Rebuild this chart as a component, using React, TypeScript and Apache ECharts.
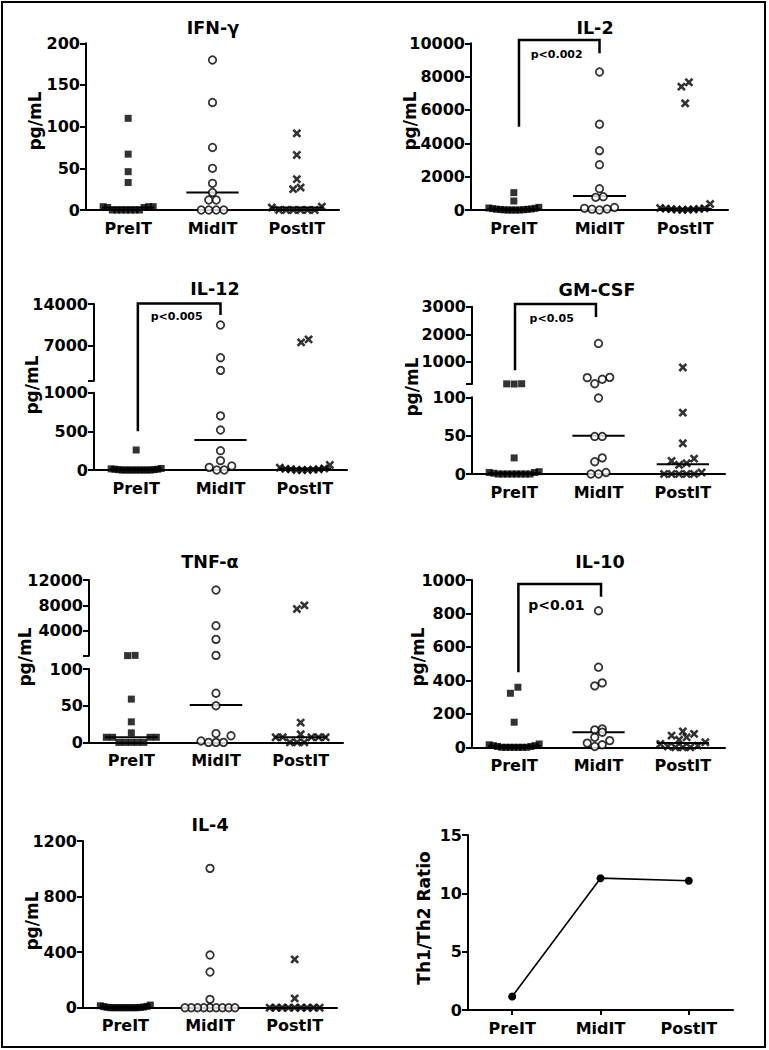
import React, { useEffect, useRef } from "react";
import * as echarts from "echarts";

const categories = ["PreIT", "MidIT", "PostIT"];

// IFN-γ (pg/mL)
const ifnPre = [110, 67, 46, 33, 4, 4, 3, 0, 0, 0, 0, 0, 0, 0, 3, 4];
const ifnMid = [180, 129, 75, 50, 32, 21, 12, 12, 0, 0, 0, 0];
const ifnPost = [92, 66, 37, 27, 25, 4, 0, 0, 0, 0, 0, 0, 3];
const ifnMedian = [3, 21, 3];

// IL-2
const il2Pre = [1040, 540, 160, 120, 100, 80, 60, 50, 40, 30, 20, 10, 0, 0, 0, 0];
const il2Mid = [8280, 5140, 3560, 2720, 1280, 800, 760, 150, 100, 60, 50, 0];
const il2Post = [7660, 7400, 6400, 360, 120, 100, 80, 60, 50, 40, 30, 20, 10];
const il2Median = [50, 840, 80];

// IL-12
const il12Pre = [259, 20, 15, 10, 10, 5, 5, 0, 0, 0, 0, 0, 0, 0, 0, 0];
const il12Mid = [10440, 4900, 2750, 700, 517, 250, 121, 52, 34, 0, 0];
const il12Post = [8000, 7500, 65, 30, 20, 15, 10, 10, 5, 0, 0, 0];
const il12Median = [10, 388, 20];

// GM-CSF
const gmPre = [210, 205, 200, 21, 3, 2, 0, 0, 0, 0, 0, 0, 0, 0, 1, 2];
const gmMid = [1670, 440, 430, 370, 210, 99, 49, 49, 21, 16, 2, 0, 0];
const gmPost = [800, 80, 40, 20, 17, 14, 12, 2, 0, 0, 0, 0, 0];
const gmMedian = [1, 50, 12.6];

// TNF-α
const tnfPre = [150, 110, 59, 28, 13, 7, 7, 7, 7, 0, 0, 0, 0, 0];
const tnfMid = [10420, 4820, 2670, 150, 67, 50, 12, 9, 2, 0, 0, 0];
const tnfPost = [8010, 7440, 27, 11, 7, 7, 7, 7, 7, 0, 0, 0];
const tnfMedian = [7, 51, 7];

// IL-10
const il10Pre = [359, 323, 150, 20, 15, 10, 10, 5, 5, 0, 0, 0, 0, 0, 0, 0];
const il10Mid = [816, 479, 385, 367, 110, 104, 90, 60, 40, 25, 15, 5];
const il10Post = [95, 80, 70, 60, 45, 30, 20, 10, 5, 0, 0, 0];
const il10Median = [10, 90, 25];

// IL-4
const il4Pre = [19, 14, 10, 8, 5, 3, 2, 0, 0, 0, 0, 0, 0, 0, 0, 0];
const il4Mid = [1003, 379, 257, 60, 0, 0, 0, 0, 0, 0, 0, 0, 0];
const il4Post = [348, 67, 0, 0, 0, 0, 0, 0, 0, 0, 0];
const il4Median = [0, 0, 0];

// Th1/Th2 ratio
const th1th2Ratio = [1.15, 11.3, 11.08];

// Axis segments (lower = main segment, upper = above the axis break)
const ifnAxis = { min: 0, max: 200, interval: 50 };
const il2Axis = { min: 0, max: 10000, interval: 2000 };
const il12Lower = { min: 0, max: 1000, interval: 500 };
const il12Upper = { min: 1000, max: 14000, labels: [7000, 14000] };
const gmLower = { min: 0, max: 100, interval: 50 };
const gmUpper = { min: 200, max: 3000, labels: [1000, 2000, 3000] };
const tnfLower = { min: 0, max: 100, interval: 50 };
const tnfUpper = { min: 100, max: 12000, labels: [4000, 8000, 12000] };
const il10Axis = { min: 0, max: 1000, interval: 200 };
const il4Axis = { min: 0, max: 1200, interval: 400 };
const ratioAxis = { min: 0, max: 15, interval: 5 };

// Significance brackets (category units on x, values on y)
const il2Bracket = { x1: 0.56, x2: 1.5, start: ["lower", 5000], top: ["lower", 10200], end: ["lower", 9400], text: "p<0.002", tx: 1.0, at: ["lower", 9350], size: 11 };
const il12Bracket = { x1: 0.52, x2: 1.5, start: ["lower", 500], top: ["upper", 14100], end: ["upper", 12140], text: "p<0.005", tx: 0.98, at: ["upper", 11850], size: 11 };
const gmBracket = { x1: 0.51, x2: 1.47, start: ["upper", 700], top: ["upper", 3100], end: ["upper", 2630], text: "p<0.05", tx: 0.945, at: ["upper", 2580], size: 11 };
const il10Bracket = { x1: 0.55, x2: 1.53, start: ["lower", 448], top: ["lower", 976], end: ["lower", 900], text: "p<0.01", tx: 1.0, at: ["lower", 850], size: 14 };

const panels: any[] = [
  { title: "IFN-γ", yName: "pg/mL", groups: [ifnPre, ifnMid, ifnPost], medians: ifnMedian, lower: ifnAxis },
  { title: "IL-2", yName: "pg/mL", groups: [il2Pre, il2Mid, il2Post], medians: il2Median, lower: il2Axis, bracket: il2Bracket },
  { title: "IL-12", yName: "pg/mL", groups: [il12Pre, il12Mid, il12Post], medians: il12Median, lower: il12Lower, upper: il12Upper, bracket: il12Bracket },
  { title: "GM-CSF", yName: "pg/mL", groups: [gmPre, gmMid, gmPost], medians: gmMedian, lower: gmLower, upper: gmUpper, bracket: gmBracket },
  { title: "TNF-α", yName: "pg/mL", groups: [tnfPre, tnfMid, tnfPost], medians: tnfMedian, lower: tnfLower, upper: tnfUpper },
  { title: "IL-10", yName: "pg/mL", groups: [il10Pre, il10Mid, il10Post], medians: il10Median, lower: il10Axis, bracket: il10Bracket },
  { title: "IL-4", yName: "pg/mL", groups: [il4Pre, il4Mid, il4Post], medians: il4Median, lower: il4Axis },
  { title: null, yName: "Th1/Th2 Ratio", line: th1th2Ratio, lower: ratioAxis },
];

// Layout (pixels)
const layouts: any[] = [
  { left: 86, width: 253, top: 43.3, height: 166.7, title: [213, 28], name: [35, 121] },
  { left: 471, width: 257, top: 43.3, height: 166.7, title: [595, 28], name: [410, 121] },
  { left: 94, width: 253, top: 392.7, height: 77.3, upperTop: 304, upperHeight: 76.7, title: [215, 289], name: [32, 385] },
  { left: 472, width: 253, top: 397.3, height: 76.7, upperTop: 306.7, upperHeight: 77.3, title: [597, 290], name: [411.7, 387] },
  { left: 89, width: 254, top: 669, height: 73.4, upperTop: 580, upperHeight: 75.7, title: [210, 562], name: [25, 657] },
  { left: 472, width: 253, top: 580, height: 167.3, title: [600, 562], name: [418, 657] },
  { left: 83, width: 254, top: 841, height: 166.7, title: [210, 825], name: [32, 921] },
  { left: 468, width: 265, top: 835, height: 175, name: [424, 918] },
];

const FONT = "'DejaVu Sans', 'Liberation Sans', Arial, sans-serif";
const INK = "#000";
const xSymbol = "path://M3.7,0H6.3V3.7H10V6.3H6.3V10H3.7V6.3H0V3.7H3.7Z";
const groupSymbols = ["rect", "circle", xSymbol];
const groupSizes = [7, 7.5, 10];
const groupRotate = [0, 0, 45];
const groupStyles = [
  { color: INK },
  { color: "#fff", borderColor: INK, borderWidth: 1.8 },
  { color: INK },
];
const MARK = 7;
const MAXSPAN = 50;
const MEDIAN_HALF = 0.31;

function jitter(values: number[], toPx: (v: number) => number, bandPx: number): number[] {
  const idx = values.map((_, i) => i).sort((a, b) => values[a] - values[b]);
  const offsets = new Array(values.length).fill(0);
  let row: number[] = [];
  let startPx = 0;
  const flush = () => {
    const n = row.length;
    if (!n) return;
    const step = n > 1 ? Math.min(MARK + 0.5, MAXSPAN / (n - 1)) : 0;
    const slots = Array.from({ length: n }, (_, k) => (k - (n - 1) / 2) * step).sort(
      (a, b) => Math.abs(a) - Math.abs(b) || a - b
    );
    row.forEach((id, k) => (offsets[id] = slots[k] / bandPx));
    row = [];
  };
  idx.forEach((i) => {
    const p = toPx(values[i]);
    if (row.length && Math.abs(p - startPx) > MARK) flush();
    if (!row.length) startPx = p;
    row.push(i);
  });
  flush();
  return offsets;
}

function valueAxis(gridIndex: number, seg: any) {
  return {
    type: "value",
    gridIndex,
    min: seg.min,
    max: seg.max,
    ...(seg.interval ? { interval: seg.interval } : {}),
    splitLine: { show: false },
    axisLine: { show: true, onZero: false, lineStyle: { color: INK, width: 2 } },
    axisTick: {
      show: true,
      length: 6,
      lineStyle: { color: INK, width: 2 },
      ...(seg.labels ? { customValues: [seg.min, ...seg.labels] } : {}),
    },
    axisLabel: {
      color: INK,
      fontFamily: FONT,
      fontWeight: "bold",
      fontSize: 16,
      margin: 6,
      formatter: (v: number) => String(v),
      ...(seg.labels ? { customValues: seg.labels } : {}),
    },
  };
}

function categoryAxis(gridIndex: number, ticks: boolean) {
  return {
    type: "category",
    gridIndex,
    data: categories,
    boundaryGap: true,
    axisLine: { show: true, onZero: false, lineStyle: { color: INK, width: 2 } },
    axisTick: { show: ticks, alignWithLabel: true, length: 5, lineStyle: { color: INK, width: 2 } },
    splitLine: { show: false },
    axisLabel: { color: INK, fontFamily: FONT, fontWeight: "bold", fontSize: 16, margin: 10 },
  };
}

function buildOption() {
  const grid: any[] = [];
  const xAxis: any[] = [];
  const yAxis: any[] = [];
  const series: any[] = [];
  const refs: any[] = [];

  panels.forEach((p, pi) => {
    const L = layouts[pi];
    const gL = grid.length;
    grid.push({ left: L.left, top: L.top, width: L.width, height: L.height, outerBoundsMode: "none" });
    const cx = xAxis.length;
    xAxis.push(categoryAxis(gL, !!p.line));
    const vx = xAxis.length;
    xAxis.push({ type: "value", gridIndex: gL, min: 0, max: 3, show: false });
    const ly = yAxis.length;
    yAxis.push(valueAxis(gL, p.lower));
    let ux = -1;
    let uy = -1;
    if (p.upper) {
      const gU = grid.length;
      grid.push({ left: L.left, top: L.upperTop, width: L.width, height: L.upperHeight, outerBoundsMode: "none" });
      ux = xAxis.length;
      xAxis.push({ type: "value", gridIndex: gU, min: 0, max: 3, show: false });
      uy = yAxis.length;
      yAxis.push(valueAxis(gU, p.upper));
    }
    refs.push({ cx, vx, ly, ux, uy });

    if (p.line) {
      series.push({
        type: "line",
        xAxisIndex: cx,
        yAxisIndex: ly,
        data: p.line,
        symbol: "circle",
        symbolSize: 8,
        itemStyle: { color: INK },
        lineStyle: { color: INK, width: 1.6 },
        z: 3,
      });
      return;
    }

    const isUpper = (v: number) => !!p.upper && v > p.lower.max;
    const gapPx = p.upper ? L.top - (L.upperTop + L.upperHeight) : 0;
    const toPx = (v: number) =>
      isUpper(v)
        ? L.height + gapPx + ((v - p.upper.min) / (p.upper.max - p.upper.min)) * L.upperHeight
        : ((v - p.lower.min) / (p.lower.max - p.lower.min)) * L.height;

    p.groups.forEach((vals: number[], g: number) => {
      const offs = jitter(vals, toPx, L.width / 3);
      const lowData: number[][] = [];
      const upData: number[][] = [];
      vals.forEach((v, i) => {
        const pt = [g + 0.5 + offs[i], v];
        if (isUpper(v)) upData.push(pt);
        else lowData.push(pt);
      });
      const base = {
        type: "scatter",
        symbol: groupSymbols[g],
        symbolSize: groupSizes[g],
        symbolRotate: groupRotate[g],
        itemStyle: groupStyles[g],
        clip: false,
        silent: true,
        z: 4,
      };
      series.push({ ...base, xAxisIndex: vx, yAxisIndex: ly, data: lowData });
      if (p.upper && upData.length) series.push({ ...base, xAxisIndex: ux, yAxisIndex: uy, data: upData });

      const m = p.medians[g];
      series.push({
        type: "line",
        xAxisIndex: vx,
        yAxisIndex: ly,
        data: [
          [g + 0.5 - MEDIAN_HALF, m],
          [g + 0.5 + MEDIAN_HALF, m],
        ],
        symbol: "none",
        lineStyle: { color: INK, width: 2 },
        silent: true,
        clip: false,
        z: 2,
      });
    });
  });

  return {
    option: { animation: false, backgroundColor: "#fff", grid, xAxis, yAxis, series },
    refs,
  };
}

function toPixel(chart: any, pi: number, ref: any, x: number, seg: string, v: number): number[] {
  const p = panels[pi];
  const L = layouts[pi];
  const up = seg === "upper";
  try {
    const r = chart.convertToPixel({ xAxisIndex: up ? ref.ux : ref.vx, yAxisIndex: up ? ref.uy : ref.ly }, [x, v]);
    if (r && isFinite(r[0]) && isFinite(r[1])) return r;
  } catch (e) {
    /* fall back */
  }
  const s = up ? p.upper : p.lower;
  const top = up ? L.upperTop : L.top;
  const h = up ? L.upperHeight : L.height;
  return [L.left + (x / 3) * L.width, top + ((s.max - v) / (s.max - s.min)) * h];
}

function buildGraphics(chart: any, refs: any[]) {
  const els: any[] = [];
  const textStyle = (text: string, size: number) => ({
    text,
    fill: INK,
    fontFamily: FONT,
    fontWeight: "bold",
    fontSize: size,
    align: "center",
    verticalAlign: "middle",
  });
  panels.forEach((p, pi) => {
    const L = layouts[pi];
    if (p.title) els.push({ type: "text", x: L.title[0], y: L.title[1], style: textStyle(p.title, 17.5), silent: true });
    els.push({ type: "text", x: L.name[0], y: L.name[1], rotation: Math.PI / 2, style: textStyle(p.yName, 17), silent: true });
    const b = p.bracket;
    if (b) {
      const a = toPixel(chart, pi, refs[pi], b.x1, b.start[0], b.start[1]);
      const t1 = toPixel(chart, pi, refs[pi], b.x1, b.top[0], b.top[1]);
      const t2 = toPixel(chart, pi, refs[pi], b.x2, b.top[0], b.top[1]);
      const e = toPixel(chart, pi, refs[pi], b.x2, b.end[0], b.end[1]);
      els.push({
        type: "polyline",
        shape: { points: [a, t1, t2, e] },
        style: { stroke: INK, lineWidth: 2.5, fill: null },
        silent: true,
        z: 10,
      });
      const tp = toPixel(chart, pi, refs[pi], b.tx, b.at[0], b.at[1]);
      els.push({ type: "text", x: tp[0], y: tp[1], style: textStyle(b.text, b.size), silent: true, z: 10 });
    }
  });
  els.push({
    type: "rect",
    shape: { x: 2, y: 2, width: 763, height: 1045 },
    style: { fill: null, stroke: INK, lineWidth: 2 },
    silent: true,
    z: 20,
  });
  return els;
}

export default function App() {
  const ref = useRef<HTMLDivElement>(null);
  useEffect(() => {
    if (!ref.current) return;
    const chart = echarts.init(ref.current, null, { renderer: "svg" });
    const { option, refs } = buildOption();
    chart.setOption(option as any);
    chart.setOption({ graphic: buildGraphics(chart, refs) } as any);
    return () => chart.dispose();
  }, []);
  return (
    <div
      ref={ref}
      style={{ position: "absolute", left: 0, top: 0, width: 769, height: 1050, background: "#fff" }}
    />
  );
}
